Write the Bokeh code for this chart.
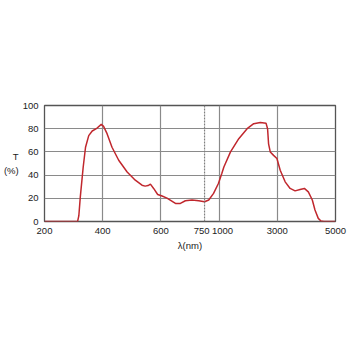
import numpy as np
from bokeh.plotting import figure
from bokeh.models import Range1d, FixedTicker, Span
from bokeh.embed import file_html
from bokeh.resources import INLINE

# Transmission spectrum (wavelength in nm, T in %)
wavelength_nm = [200, 300, 314, 318, 323, 333, 341, 352, 364, 378,
                 395, 403, 415, 432, 455, 484, 512, 535, 546, 556,
                 564, 575, 589, 604, 621, 632, 650, 667, 684, 707,
                 730, 750, 822, 905, 988, 1093, 1164, 1392, 1676, 1963,
                 2190, 2417, 2612, 2666, 2700, 2758, 2872, 2987, 3100, 3270,
                 3441, 3611, 3782, 3930, 4066, 4203, 4295, 4408, 4500, 4600,
                 5000]
transmission = [0, 0, 0.3, 5, 21, 47, 64, 74, 78, 80,
                83.7, 82, 75.7, 64, 52.8, 42.7, 35.6, 31.3, 30.5, 31,
                32.2, 28.5, 23.3, 22, 20.2, 18.5, 15.6, 15.6, 17.9, 18.5,
                17.9, 17, 18.5, 24.2, 32.8, 41.4, 47, 60, 71.4, 80,
                84.3, 85.4, 84.8, 80, 67, 60, 57, 54.3, 44.2, 34.2,
                28.5, 26.4, 27.6, 28.5, 25.6, 18.5, 9.9, 2.7, 0.5, 0,
                0]

x_tick_values = [200, 400, 600, 750, 1000, 3000, 5000]
x_tick_labels = ["200", "400", "600", "750", "1000", "3000", "5000"]
x_grid_values = [400, 600, 1000, 3000]
y_ticks = [0, 20, 40, 60, 80, 100]
break_nm = 750

# piecewise axis: 200-750 nm and 1000-5000 nm, compressed 750-1000
scale_nm = [200, 750, 1000, 5000]
scale_u = [0, 2.75, 3, 5]


def to_u(v):
    return np.interp(v, scale_nm, scale_u)


FONT = "Liberation Sans"
TXT = "#222222"

p = figure(width=350, height=350, output_backend="svg", toolbar_location=None,
           x_range=Range1d(0, 5), y_range=Range1d(0, 100),
           min_border_left=44, min_border_right=15,
           min_border_top=105, min_border_bottom=129)
p.background_fill_color = "white"
p.border_fill_color = "white"
p.outline_line_color = "#555555"
p.outline_line_width = 1.3

# label positions (slightly spread apart for the crowded 750 / 1000 pair)
nudge = {750: -0.05, 1000: 0.06}
label_pos = [float(round(to_u(v) + nudge.get(v, 0.0), 4)) for v in x_tick_values]
p.xaxis.ticker = FixedTicker(ticks=label_pos)
p.xaxis.major_label_overrides = {pos: lab for pos, lab in zip(label_pos, x_tick_labels)}
p.xgrid.ticker = FixedTicker(ticks=[float(to_u(v)) for v in x_grid_values])
p.yaxis.ticker = FixedTicker(ticks=y_ticks)
p.ygrid.ticker = FixedTicker(ticks=[20, 40, 60, 80])

for g in (p.xgrid, p.ygrid):
    g.grid_line_color = "#8a8a8a"
    g.grid_line_width = 1.2

for ax in (p.xaxis, p.yaxis):
    ax.axis_line_color = None
    ax.major_tick_line_color = None
    ax.minor_tick_line_color = None
    ax.major_tick_out = 0
    ax.major_tick_in = 0
    ax.major_label_text_font = FONT
    ax.major_label_text_font_size = "9.5px"
    ax.major_label_text_color = TXT
    ax.axis_label_text_font = FONT
    ax.axis_label_text_font_size = "9.5px"
    ax.axis_label_text_font_style = "normal"
    ax.axis_label_text_color = TXT

p.xaxis.major_label_standoff = 6
p.yaxis.major_label_standoff = 6
p.xaxis.axis_label = "λ(nm)"
p.xaxis.axis_label_standoff = 3
p.yaxis.axis_label = "T\n(%)"
p.yaxis.axis_label_orientation = "horizontal"
p.yaxis.axis_label_standoff = 1

p.add_layout(Span(location=float(to_u(break_nm)), dimension="height",
                  line_color="#808080", line_dash="2 1", line_width=1.2))

p.line(to_u(wavelength_nm), transmission, line_color="#c0272d", line_width=1.5)

open("out.html", "w").write(file_html(p, INLINE))
